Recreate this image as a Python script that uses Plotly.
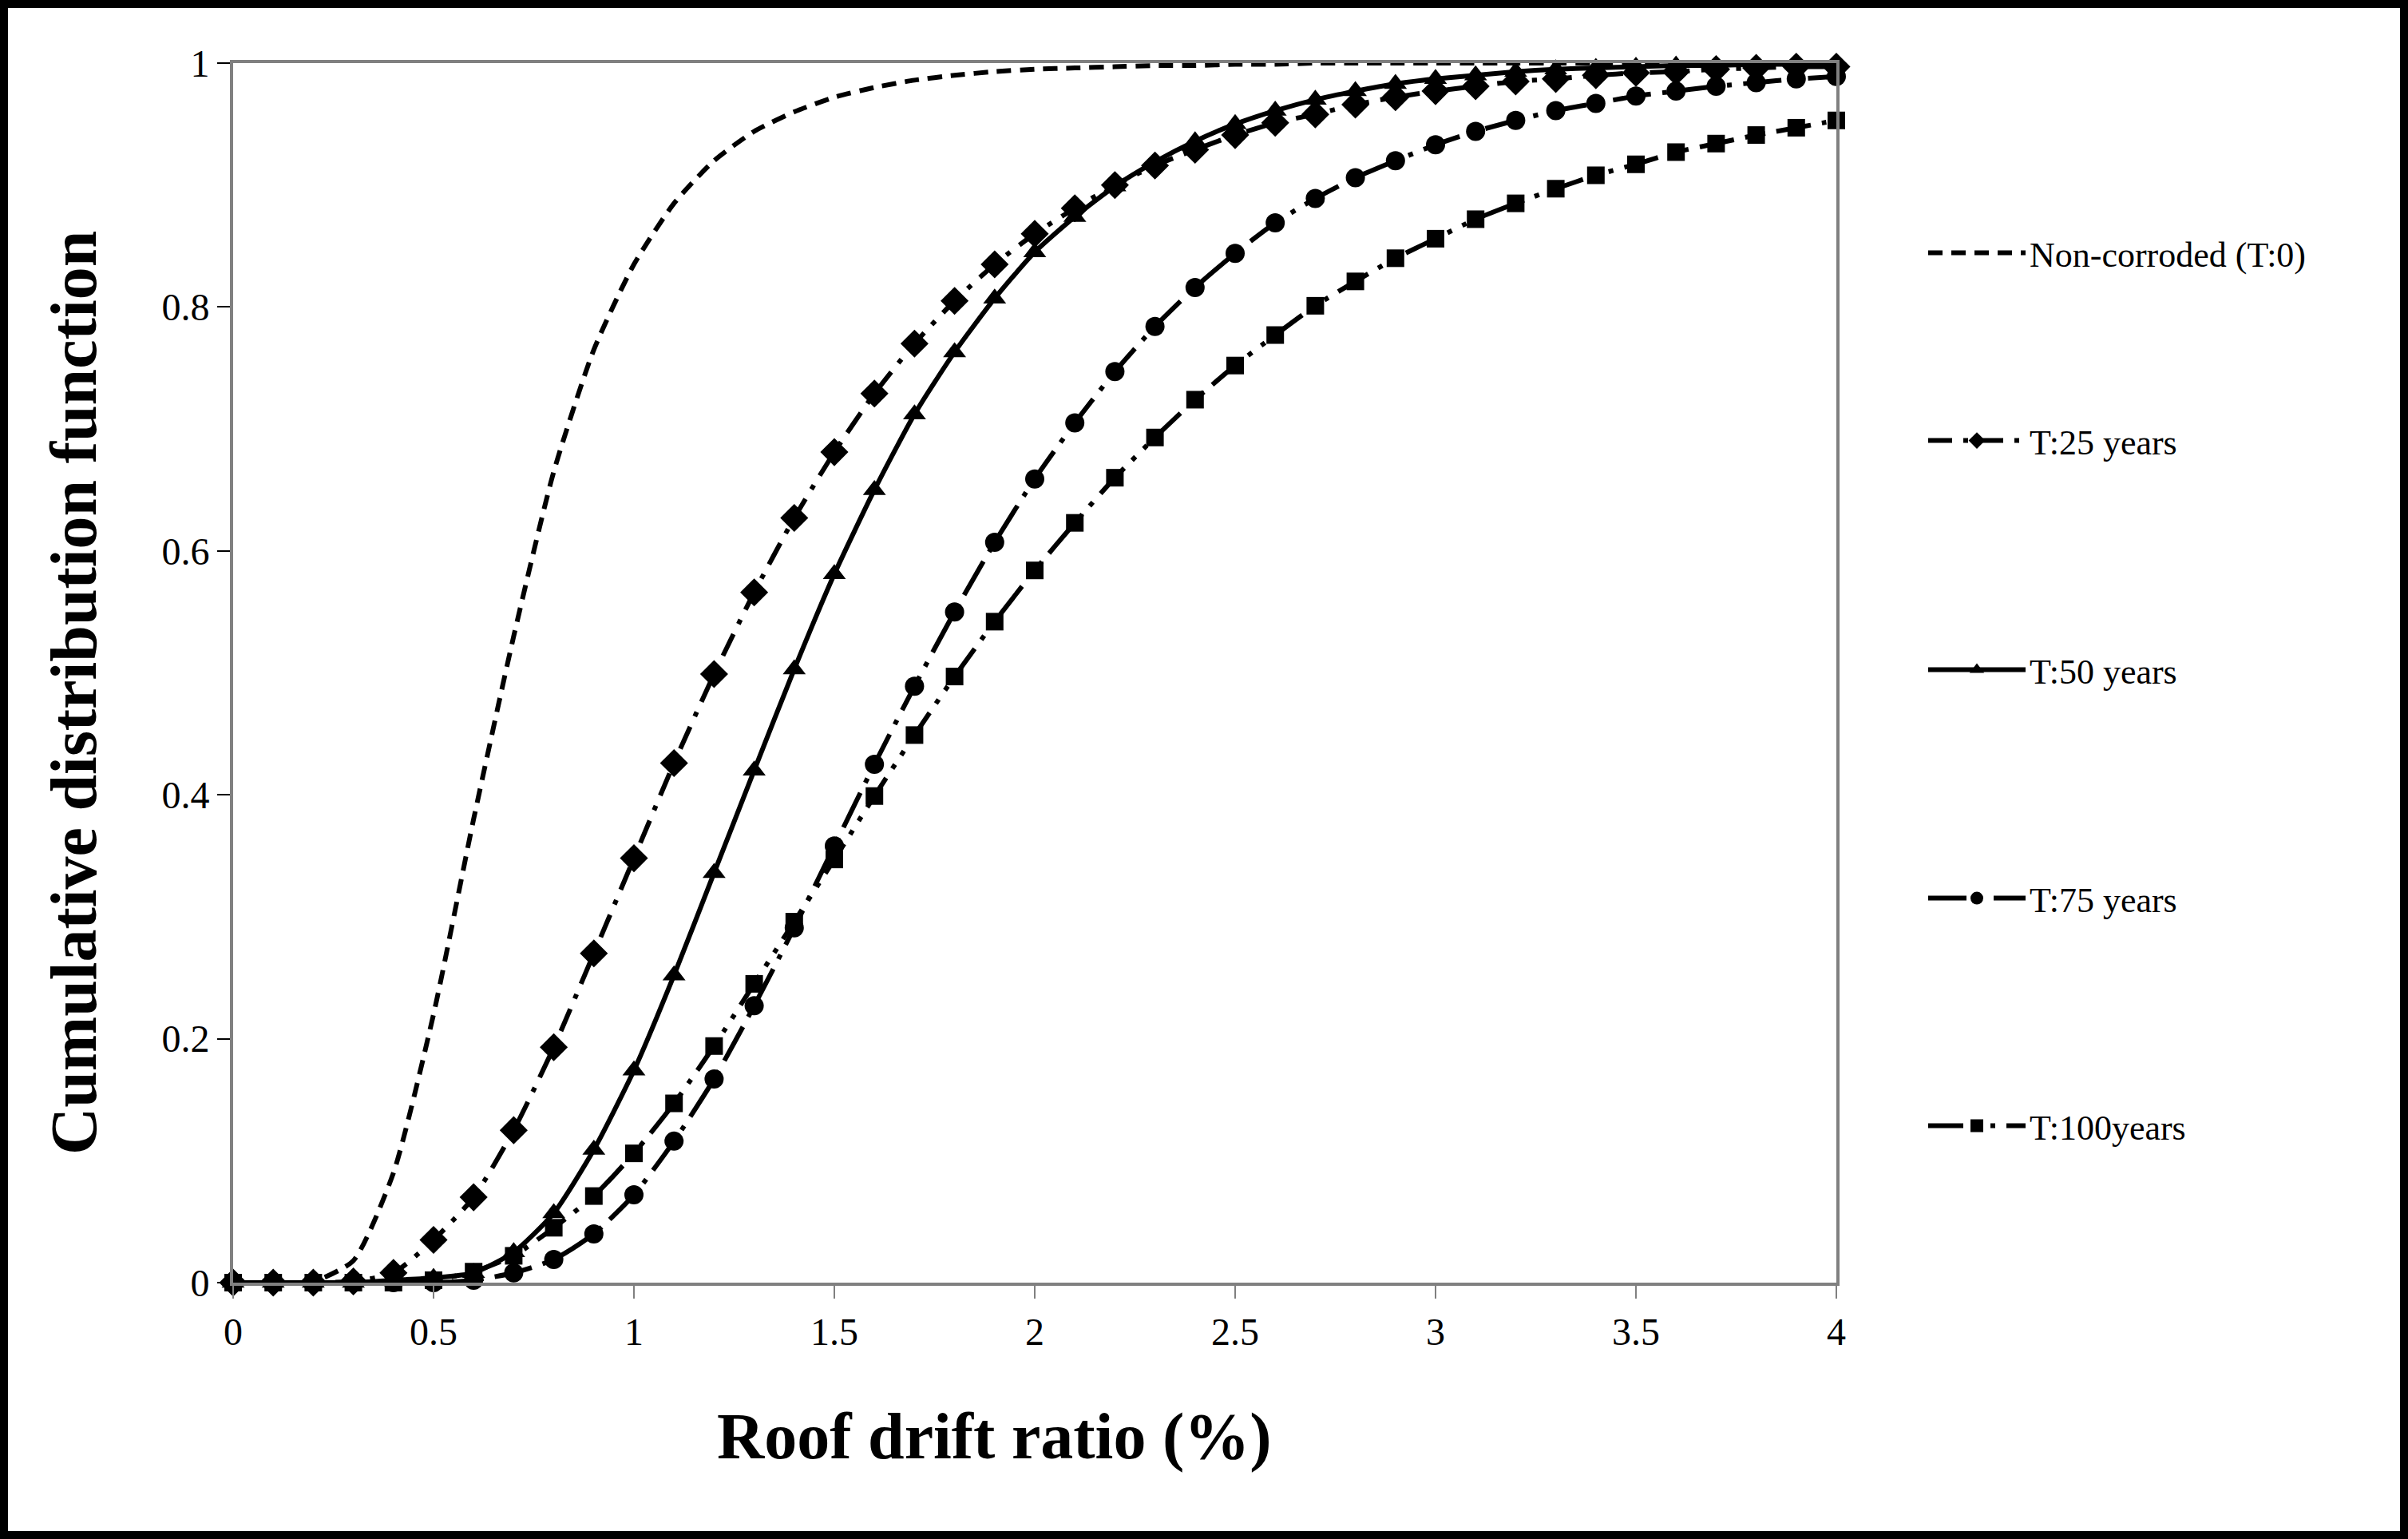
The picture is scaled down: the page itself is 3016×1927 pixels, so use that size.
import plotly.graph_objects as go

drift = [0.0, 0.1, 0.2, 0.3, 0.4, 0.5, 0.6, 0.7, 0.8, 0.9,
         1.0, 1.1, 1.2, 1.3, 1.4, 1.5, 1.6, 1.7, 1.8, 1.9,
         2.0, 2.1, 2.2, 2.3, 2.4, 2.5, 2.6, 2.7, 2.8, 2.9,
         3.0, 3.1, 3.2, 3.3, 3.4, 3.5, 3.6, 3.7, 3.8, 3.9, 4.0]

cdf_t0 = [0, 0, 0.001, 0.018, 0.09, 0.22, 0.38, 0.53, 0.665, 0.765,
          0.835, 0.885, 0.92, 0.944, 0.96, 0.972, 0.98, 0.986, 0.99, 0.993,
          0.995, 0.996, 0.997, 0.998, 0.998, 0.999, 0.999, 1, 1, 1,
          1, 1, 1, 1, 1, 1, 1, 1, 1, 1, 1]
cdf_t25 = [0, 0, 0, 0.001, 0.008, 0.035, 0.07, 0.125, 0.193, 0.27,
           0.348, 0.426, 0.499, 0.566, 0.627, 0.681, 0.729, 0.77, 0.805, 0.835,
           0.86, 0.881, 0.9, 0.916, 0.929, 0.941, 0.951, 0.958, 0.966, 0.972,
           0.977, 0.981, 0.985, 0.987, 0.99, 0.992, 0.993, 0.995, 0.996, 0.997, 0.997]
cdf_t50 = [0, 0, 0, 0, 0.002, 0.004, 0.008, 0.025, 0.057, 0.109,
           0.174, 0.252, 0.336, 0.42, 0.503, 0.581, 0.65, 0.712, 0.763, 0.807,
           0.845, 0.874, 0.899, 0.919, 0.936, 0.95, 0.961, 0.97, 0.977, 0.983,
           0.987, 0.99, 0.993, 0.995, 0.996, 0.997, 0.998, 0.998, 0.999, 0.999, 0.999]
cdf_t75 = [0, 0, 0, 0, 0, 0, 0.002, 0.008, 0.019, 0.04,
           0.072, 0.116, 0.167, 0.227, 0.291, 0.358, 0.425, 0.489, 0.55, 0.607,
           0.659, 0.705, 0.747, 0.784, 0.816, 0.844, 0.869, 0.889, 0.906, 0.92,
           0.933, 0.944, 0.953, 0.961, 0.967, 0.973, 0.977, 0.981, 0.984, 0.987, 0.989]
cdf_t100 = [0, 0, 0, 0, 0, 0.002, 0.009, 0.022, 0.045, 0.071,
            0.106, 0.147, 0.194, 0.245, 0.296, 0.347, 0.399, 0.449, 0.497, 0.542,
            0.584, 0.623, 0.66, 0.693, 0.724, 0.752, 0.777, 0.801, 0.821, 0.84,
            0.856, 0.872, 0.885, 0.897, 0.908, 0.917, 0.927, 0.934, 0.941, 0.947, 0.953]

names = ["Non-corroded (T:0)", "T:25 years", "T:50 years", "T:75 years", "T:100years"]
x_ticks = [0, 0.5, 1, 1.5, 2, 2.5, 3, 3.5, 4]
y_ticks = [0, 0.2, 0.4, 0.6, 0.8, 1]

W, H = 3016, 1927
L, R, T, B = 292, 2300, 79, 1606
pw, ph = R - L, B - T

def px(xp):
    return (xp - L) / pw

def py(yp):
    return (B - yp) / ph

FONT = "Liberation Serif, Times New Roman, serif"
LW = 6

styles = [
    dict(dash="18px,11px", symbol=None, size=0),
    dict(dash="30px,14px,6px,14px", symbol="diamond", size=27),
    dict(dash="solid", symbol="triangle-up", size=25),
    dict(dash="48px,14px,6px,14px", symbol="circle", size=24),
    dict(dash="44px,14px,6px,14px,6px,14px", symbol="square", size=22),
]
series = [cdf_t0, cdf_t25, cdf_t50, cdf_t75, cdf_t100]
legend_y = [317, 552, 839, 1125, 1410]
legend_ids = ["legend", "legend2", "legend3", "legend4", "legend5"]

fig = go.Figure()
for i, (nm, vals, st) in enumerate(zip(names, series, styles)):
    kw = {}
    if st["symbol"] is None:
        mode = "lines"
    else:
        mode = "lines+markers"
        kw["marker"] = dict(symbol=st["symbol"], size=st["size"], color="black",
                            line=dict(width=0))
    fig.add_trace(go.Scatter(
        x=drift, y=vals, name=nm, mode=mode,
        line=dict(color="black", width=LW, dash=st["dash"], shape="spline", smoothing=0.6),
        cliponaxis=False, legend=legend_ids[i], **kw))

layout_legends = {}
for lid, yy in zip(legend_ids, legend_y):
    layout_legends[lid] = dict(
        x=px(2410), y=py(yy), xanchor="left", yanchor="middle",
        font=dict(family=FONT, size=44, color="black"),
        bgcolor="rgba(0,0,0,0)", borderwidth=0, itemwidth=122,
    )

fig.update_layout(
    width=W, height=H,
    margin=dict(l=L, r=W - R, t=T, b=H - B, pad=0),
    paper_bgcolor="white", plot_bgcolor="white",
    showlegend=True,
    **layout_legends,
    xaxis=dict(range=[0, 4], tickvals=x_ticks, ticktext=[f"{v:g}" for v in x_ticks],
               showgrid=False, zeroline=False, showline=True, linecolor="#808080",
               linewidth=4, mirror=True, ticks="outside", ticklen=16, tickwidth=2,
               tickcolor="#808080",
               tickfont=dict(family=FONT, size=48, color="black")),
    yaxis=dict(range=[0, 1], tickvals=y_ticks, ticktext=[f"{v:g}" for v in y_ticks],
               showgrid=False, zeroline=False, showline=True, linecolor="#808080",
               linewidth=4, mirror=True, ticks="outside", ticklen=16, tickwidth=2,
               tickcolor="black",
               tickfont=dict(family=FONT, size=48, color="black")),
    annotations=[
        dict(text="<b>Roof drift ratio (%)</b>", xref="paper", yref="paper",
             x=px(1245), y=py(1798), xanchor="center", yanchor="middle",
             showarrow=False, font=dict(family=FONT, size=82, color="black")),
        dict(text="<b>Cumulative distribution function</b>", xref="paper", yref="paper",
             x=px(92), y=py(868), xanchor="center", yanchor="middle", textangle=-90,
             showarrow=False, font=dict(family=FONT, size=82, color="black")),
    ],
    shapes=[
        dict(type="rect", xref="paper", yref="paper",
             x0=px(5), x1=px(3011), y0=py(1922), y1=py(5),
             line=dict(color="black", width=10), fillcolor="rgba(0,0,0,0)", layer="above"),
    ],
)

fig.write_html("out.html")
